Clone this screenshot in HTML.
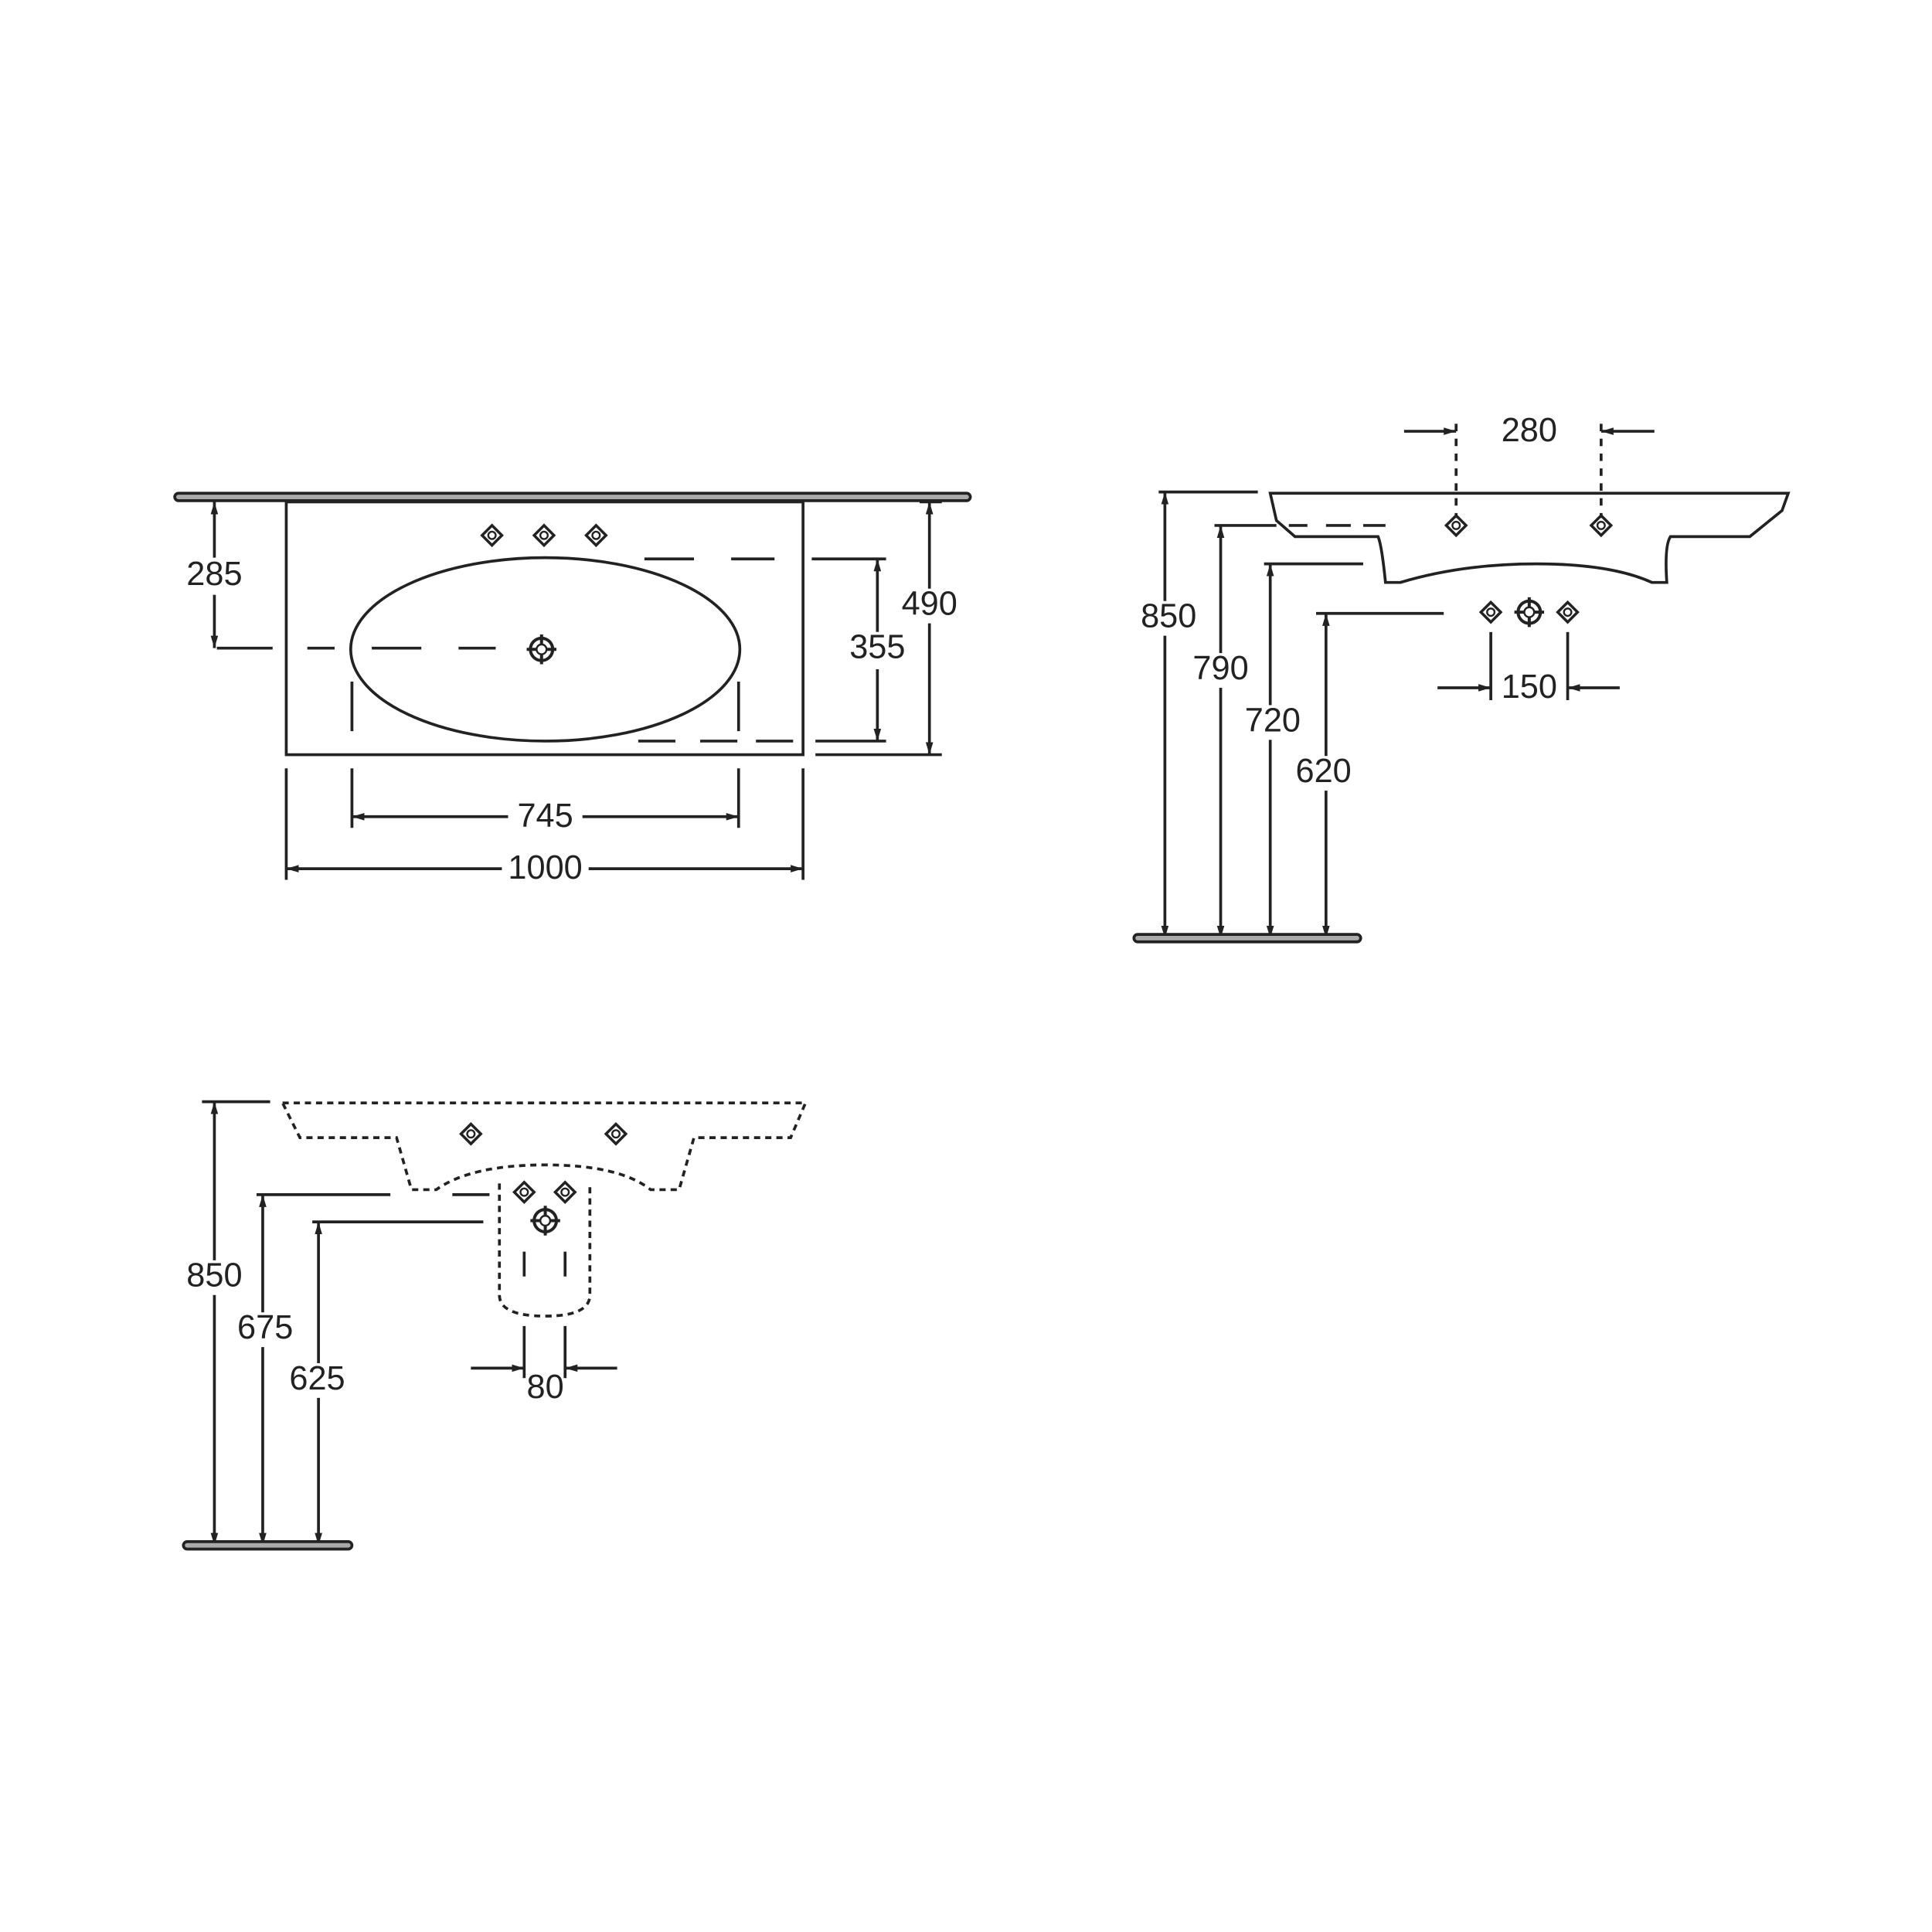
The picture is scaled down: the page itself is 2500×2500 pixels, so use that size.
<!DOCTYPE html>
<html><head><meta charset="utf-8"><style>
html,body{margin:0;padding:0;background:#fff}
svg{display:block}
text{font-family:"Liberation Sans",sans-serif;font-size:27px;fill:#222;text-anchor:middle;dominant-baseline:middle}
</style></head><body>
<svg width="2500" height="2500" viewBox="0 0 1559 1559" xmlns="http://www.w3.org/2000/svg">
<defs>
<marker id="a" viewBox="0 0 10 10" refX="10" refY="5" markerWidth="10" markerHeight="10" orient="auto-start-reverse" markerUnits="userSpaceOnUse"><path d="M0,2 L10,5 L0,8 z" fill="#222"/></marker>
<g id="tap"><path d="M-8,0 L0,-8 L8,0 L0,8 Z" fill="none" stroke="#222" stroke-width="2.2"/><circle r="3" fill="none" stroke="#222" stroke-width="1.5"/></g>
<g id="tapb"><circle r="9" fill="none" stroke="#222" stroke-width="2.5"/><path d="M-12,0 H12 M0,-12 V12" stroke="#222" stroke-width="2.5"/><circle r="4" fill="#fff" stroke="#222" stroke-width="1.5"/></g>
</defs>
<g fill="none" stroke="#222" stroke-width="2.3">
<!-- TOP LEFT -->
<rect x="141" y="398" width="642" height="6" rx="3" fill="#aaa"/>
<rect x="231" y="405" width="417" height="204"/>
<ellipse cx="440" cy="524" rx="157" ry="74"/>
<path d="M175,523 H220 M248,523 H270 M300,523 H340 M370,523 H400"/>
<path d="M520,451 H560 M590,451 H625 M655,451 H715"/>
<path d="M515,598 H545 M565,598 H595 M610,598 H640 M658,598 H715"/>
<path d="M284,550 V590 M596,550 V590"/>
<path d="M173,405 V523" marker-start="url(#a)" marker-end="url(#a)"/>
<path d="M708,540 V598" marker-end="url(#a)"/>
<path d="M708,451 V510" marker-start="url(#a)"/>
<path d="M750,405 V609" marker-start="url(#a)" marker-end="url(#a)"/>
<path d="M658,609 H760 M742,405 H760"/>
<path d="M284,620 V668 M596,620 V668 M231,620 V710 M648,620 V710"/>
<path d="M284,659 H410" marker-start="url(#a)"/><path d="M470,659 H596" marker-end="url(#a)"/>
<path d="M231,701 H405" marker-start="url(#a)"/><path d="M475,701 H648" marker-end="url(#a)"/>
<!-- TOP RIGHT -->
<path d="M1025,398 H1443 L1438,412 L1412,433 H1348 Q1343,440 1345,470 L1333,470 Q1300,455 1240,455 Q1180,455 1130,470 L1118,470 Q1115,440 1112,433 H1045 L1030,420 Z"/>
<path d="M1040,424 H1055 M1070,424 H1090 M1100,424 H1118"/>
<path d="M1175,342 V418 M1292,342 V418" stroke-dasharray="6,6"/>
<path d="M1133,348 H1175" marker-end="url(#a)"/><path d="M1335,348 H1292" marker-end="url(#a)"/>
<path d="M1203,510 V565 M1265,510 V565"/>
<path d="M1160,555 H1203" marker-end="url(#a)"/><path d="M1307,555 H1265" marker-end="url(#a)"/>
<path d="M935,397 H1015 M980,424 H1030 M1020,455 H1100 M1062,495 H1165"/>
<path d="M940,397 V757" marker-start="url(#a)" marker-end="url(#a)"/>
<path d="M985,424 V757" marker-start="url(#a)" marker-end="url(#a)"/>
<path d="M1025,455 V757" marker-start="url(#a)" marker-end="url(#a)"/>
<path d="M1070,495 V757" marker-start="url(#a)" marker-end="url(#a)"/>
<rect x="915" y="754" width="183" height="6" rx="3" fill="#aaa"/>
<!-- BOTTOM LEFT -->
<path d="M228,890 H650 L638,918 H560 L548,960 H525 Q500,940 440,940 Q380,940 352,960 H332 L320,918 H242 Z" stroke-dasharray="5,4"/>
<path d="M403,955 V1045 Q403,1062 440,1062 Q476,1062 476,1045 V955" stroke-dasharray="5,4"/>
<path d="M423,1010 V1030 M456,1010 V1030"/>
<path d="M163,889 H218 M207,964 H315 M365,964 H395 M252,986 H390"/>
<path d="M173,889 V1247" marker-start="url(#a)" marker-end="url(#a)"/>
<path d="M212,964 V1247" marker-start="url(#a)" marker-end="url(#a)"/>
<path d="M257,986 V1247" marker-start="url(#a)" marker-end="url(#a)"/>
<rect x="148" y="1244" width="136" height="6" rx="3" fill="#aaa"/>
<path d="M423,1070 V1112 M456,1070 V1112"/>
<path d="M380,1104 H423" marker-end="url(#a)"/><path d="M498,1104 H456" marker-end="url(#a)"/>
</g>
<use href="#tap" x="397" y="432"/><use href="#tap" x="439" y="432"/><use href="#tap" x="481" y="432"/>
<use href="#tapb" x="437" y="524"/>
<use href="#tap" x="1175" y="424"/><use href="#tap" x="1292" y="424"/>
<use href="#tap" x="1203" y="494"/><use href="#tapb" x="1234" y="494"/><use href="#tap" x="1265" y="494"/>
<use href="#tap" x="380" y="915"/><use href="#tap" x="497" y="915"/>
<use href="#tap" x="423" y="962"/><use href="#tap" x="456" y="962"/><use href="#tapb" x="440" y="985"/>
<rect x="156" y="450" width="36" height="30" fill="#fff"/><text x="173" y="465">285</text>
<rect x="686" y="510" width="44" height="28" fill="#fff"/><text x="708" y="524">355</text>
<rect x="728" y="475" width="44" height="28" fill="#fff"/><text x="750" y="489">490</text>
<text x="440" y="660">745</text><text x="440" y="702">1000</text>
<text x="1234" y="349">280</text><text x="1234" y="556">150</text>
<rect x="918" y="485" width="50" height="28" fill="#fff"/><text x="943" y="499">850</text>
<rect x="960" y="527" width="50" height="28" fill="#fff"/><text x="985" y="541">790</text>
<rect x="1002" y="569" width="50" height="28" fill="#fff"/><text x="1027" y="583">720</text>
<rect x="1043" y="610" width="50" height="28" fill="#fff"/><text x="1068" y="624">620</text>
<rect x="148" y="1017" width="50" height="28" fill="#fff"/><text x="173" y="1031">850</text>
<rect x="189" y="1059" width="50" height="28" fill="#fff"/><text x="214" y="1073">675</text>
<rect x="231" y="1100" width="50" height="28" fill="#fff"/><text x="256" y="1114">625</text>
<text x="440" y="1121">80</text>
</svg>
</body></html>
